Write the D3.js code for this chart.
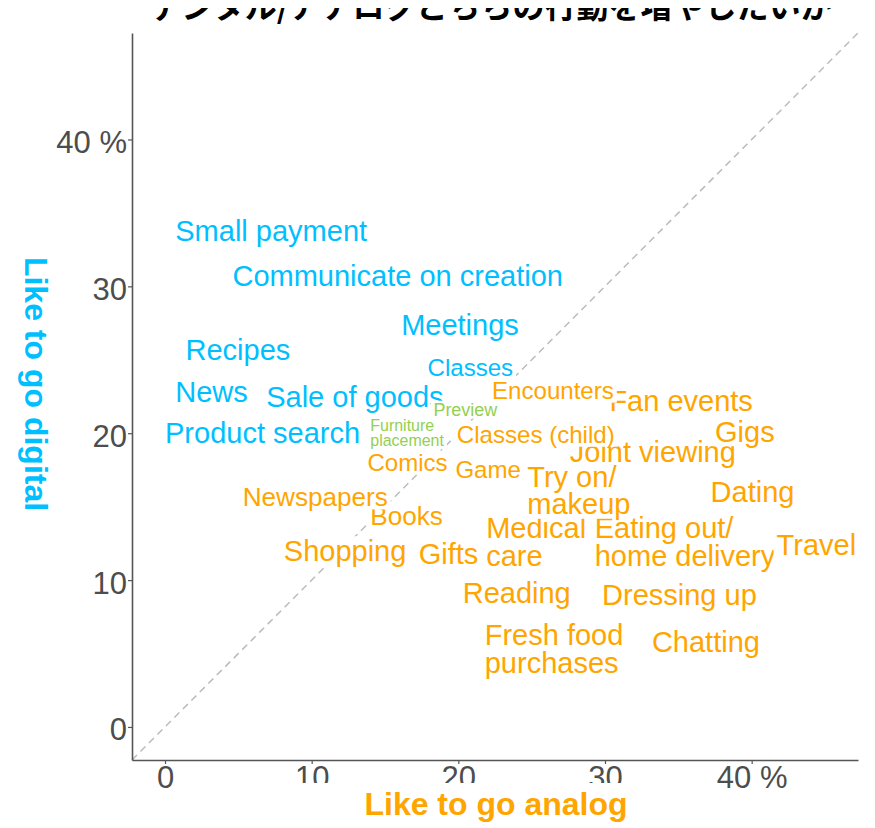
<!DOCTYPE html>
<html>
<head>
<meta charset="utf-8">
<script src="https://cdn.jsdelivr.net/npm/d3@7"></script>
<style>
	body { margin: 0; background: #fff; }
	svg { display: block; }
</style>
</head>
<body>
<div id="chart"></div>
<script>
// items, in drawing order (later labels sit on top of earlier ones)
const items = [
	'Small payment', 'Communicate on creation', 'Meetings', 'Recipes', 'News',
	'Sale of goods', 'Product search', 'Classes', 'Fan events', 'Encounters',
	'Preview', 'Furniture\nplacement', 'Joint viewing', 'Classes (child)', 'Gigs',
	'Comics', 'Game', 'Dating', 'Books', 'Newspapers',
	'Eating out/\nhome delivery', 'Medical\ncare', 'Try on/\nmakeup', 'Travel', 'Shopping',
	'Gifts', 'Reading', 'Dressing up', 'Fresh food\npurchases', 'Chatting'
];

// % who would like to do more of it the analog way
const analog = [
	0.7, 4.6, 16.1, 1.4, 0.7,
	6.9, 0.0, 17.9, 30.3, 22.3,
	18.3, 14.0, 27.6, 19.9, 37.5,
	13.8, 19.8, 37.2, 14.0, 5.3,
	29.3, 21.9, 24.7, 41.7, 8.1,
	17.3, 20.3, 29.8, 21.8, 33.2
];

// % who would like to do more of it the digital way
const digital = [
	33.8, 30.7, 27.4, 25.7, 22.8,
	22.5, 20.0, 24.5, 22.2, 22.9,
	21.6, 20.0, 18.7, 19.9, 20.1,
	18.0, 17.5, 16.0, 14.4, 15.7,
	12.6, 12.6, 16.1, 12.4, 12.0,
	11.8, 9.1, 9.0, 5.3, 5.8
];

// which way the item leans
const lean = [
	'digital', 'digital', 'digital', 'digital', 'digital',
	'digital', 'digital', 'digital', 'analog', 'analog',
	'even', 'even', 'analog', 'analog', 'analog',
	'analog', 'analog', 'analog', 'analog', 'analog',
	'analog', 'analog', 'analog', 'analog', 'analog',
	'analog', 'analog', 'analog', 'analog', 'analog'
];

// relative label weight
const weight = [
	100, 100, 100, 100, 100,
	100, 100, 83, 100, 83,
	62, 55, 100, 83, 100,
	83, 83, 100, 90, 90,
	100, 100, 100, 100, 100,
	100, 100, 100, 100, 100
];

const xTicks = [0, 10, 20, 30, 40];
const yTicks = [0, 10, 20, 30, 40];

const title = 'デジタル/アナログどちらの行動を増やしたいか';

const width = 875;
const height = 828;

const leanColor = d3.scaleOrdinal()
	.domain(['digital', 'analog', 'even'])
	.range(['#00bfff', '#ffa500', '#92d050']);

const fontSize = d3.scaleLinear().domain([0, 100]).range([0, 29]);

const x = d3.scaleLinear().domain([-2.25, 47.25]).range([132, 858]);
const y = d3.scaleLinear().domain([-2.25, 47.25]).range([760, 33]);

const svg = d3.select('#chart')
	.append('svg')
	.attr('width', width)
	.attr('height', height)
	.style('font-family', '"Liberation Sans", Arial, sans-serif');

// y = x reference line
svg.append('line')
	.attr('x1', x(-2.25))
	.attr('y1', y(-2.25))
	.attr('x2', x(47.25))
	.attr('y2', y(47.25))
	.attr('stroke', '#bbb')
	.attr('stroke-width', 1.5)
	.attr('stroke-dasharray', '7,5');

const fmt = (d) => d === 40 ? '40 %' : d;

const xAxis = svg.append('g')
	.attr('transform', `translate(0,${y(-2.25)})`)
	.call(d3.axisBottom(x).tickValues(xTicks).tickFormat(fmt).tickSize(4).tickSizeOuter(0).tickPadding(2));

const yAxis = svg.append('g')
	.attr('transform', `translate(${x(-2.25)},0)`)
	.call(d3.axisLeft(y).tickValues(yTicks).tickFormat(fmt).tickSize(4).tickSizeOuter(0).tickPadding(1));

yAxis.selectAll('text').attr('dy', '0.42em');

[xAxis, yAxis].forEach((ax) => {
	ax.select('.domain').attr('stroke', '#555').attr('stroke-width', 1.6);
	ax.selectAll('.tick line').attr('stroke', '#555').attr('stroke-width', 1.2);
	ax.selectAll('.tick text')
		.attr('fill', '#4d4d4d')
		.attr('font-size', 31)
		.attr('font-family', '"Liberation Sans", Arial, sans-serif');
});

// labels with a white box behind each one
const labels = svg.append('g');

items.forEach((name, i) => {
	const fs = fontSize(weight[i]);
	const lines = name.split('\n');
	const lh = fs * 0.95;
	const cx = x(analog[i]);
	const cy = y(digital[i]);

	const g = labels.append('g');
	const box = g.append('rect').attr('fill', '#fff');

	const text = g.append('text')
		.attr('font-size', fs)
		.attr('fill', leanColor(lean[i]));

	let maxW = 0;
	lines.forEach((line, j) => {
		const t = text.append('tspan')
			.attr('x', cx)
			.attr('y', cy - (lines.length - 1) * lh / 2 + j * lh + fs * 0.35)
			.text(line);
		maxW = Math.max(maxW, t.node().getComputedTextLength());
	});

	const bh = (lines.length - 1) * lh + fs * 1.0;
	box.attr('x', cx - 3)
		.attr('y', cy - bh / 2)
		.attr('width', maxW + 6)
		.attr('height', bh);
});

// axis titles
svg.append('rect')
	.attr('x', 285)
	.attr('y', 783)
	.attr('width', 420)
	.attr('height', height - 783)
	.attr('fill', '#fff');

svg.append('text')
	.attr('x', 496)
	.attr('y', 815)
	.attr('text-anchor', 'middle')
	.attr('font-size', 32)
	.attr('font-weight', 'bold')
	.attr('fill', '#ffa500')
	.text('Like to go analog');

svg.append('text')
	.attr('transform', 'translate(25,384) rotate(90)')
	.attr('text-anchor', 'middle')
	.attr('font-size', 32)
	.attr('font-weight', 'bold')
	.attr('fill', '#00bfff')
	.text('Like to go digital');

// title, only its lower part is in view
svg.append('text')
	.attr('x', 491)
	.attr('y', 18)
	.attr('text-anchor', 'middle')
	.attr('font-size', 32)
	.attr('font-weight', 'bold')
	.attr('font-family', '"Noto Sans CJK JP", sans-serif')
	.attr('fill', '#000')
	.text(title);

svg.append('rect')
	.attr('x', 0)
	.attr('y', 0)
	.attr('width', width)
	.attr('height', 8)
	.attr('fill', '#fff');
</script>
</body>
</html>
